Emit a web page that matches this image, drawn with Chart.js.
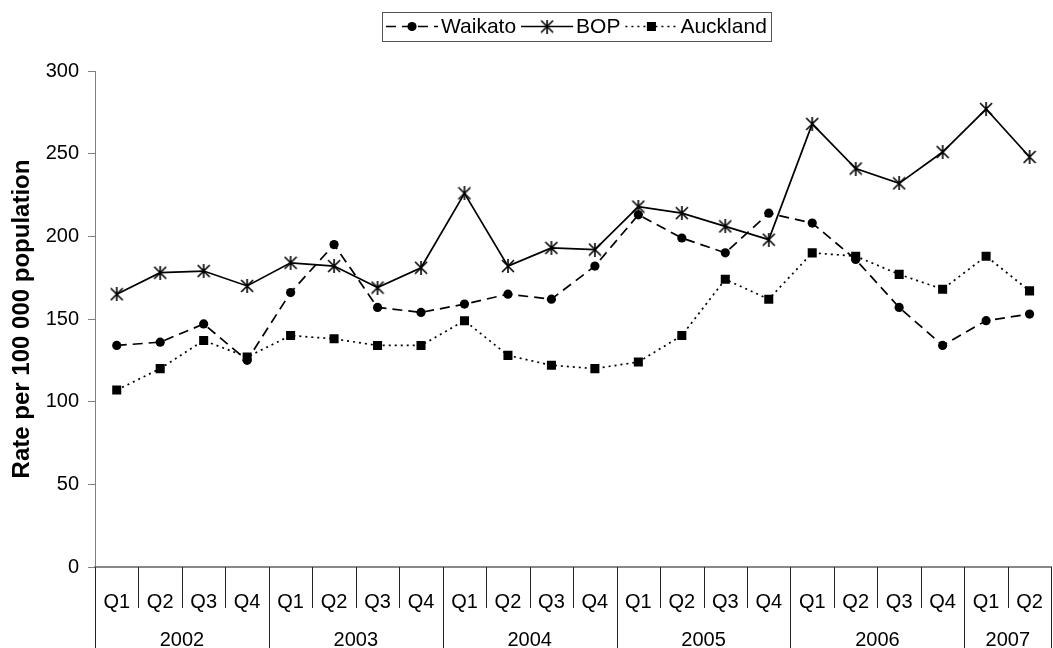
<!DOCTYPE html>
<html>
<head>
<meta charset="utf-8">
<title>Rate per 100 000 population</title>
<script src="https://cdn.jsdelivr.net/npm/chart.js@4.4.1/dist/chart.umd.min.js"></script>
<style>
    html, body { margin: 0; padding: 0; background: #fff; overflow: hidden; }
    #wrap { position: relative; width: 1060px; height: 648px; }
</style>
</head>
<body>
<div id="wrap"><canvas id="chart"></canvas></div>
<script>
// Data
const quarters = ['Q1', 'Q2', 'Q3', 'Q4', 'Q1', 'Q2', 'Q3', 'Q4', 'Q1', 'Q2', 'Q3', 'Q4',
                  'Q1', 'Q2', 'Q3', 'Q4', 'Q1', 'Q2', 'Q3', 'Q4', 'Q1', 'Q2'];
const years = ['2002', '2003', '2004', '2005', '2006', '2007'];
const quartersPerYear = [4, 4, 4, 4, 4, 2];

const waikato = [134, 136, 147, 125, 166, 195, 157, 154, 159, 165, 162, 182,
                 213, 199, 190, 214, 208, 186, 157, 134, 149, 153];
const bop = [165, 178, 179, 170, 184, 182, 169, 181, 226, 182, 193, 192,
             218, 214, 206, 198, 268, 241, 232, 251, 277, 248];
const auckland = [107, 120, 137, 127, 140, 138, 134, 134, 149, 128, 122, 120,
                  124, 140, 174, 162, 190, 188, 177, 168, 188, 167];

const yTicks = [0, 50, 100, 150, 200, 250, 300];

const FONT = '"Liberation Sans", Arial, sans-serif';
Chart.defaults.font.family = FONT;
Chart.defaults.color = '#000';

// Excel-style star marker: an X with a vertical bar
function makeStar(size) {
    const c = document.createElement('canvas');
    c.width = c.height = size;
    const g = c.getContext('2d');
    const m = size / 2, r = size / 2 - 1;
    g.strokeStyle = '#000';
    g.lineWidth = 1.6;
    g.beginPath();
    g.moveTo(m - r, m - r); g.lineTo(m + r, m + r);
    g.moveTo(m + r, m - r); g.lineTo(m - r, m + r);
    g.moveTo(m, 0); g.lineTo(m, size);
    g.stroke();
    return c;
}
const star = makeStar(14);

// Legend box with line samples, drawn on the canvas
const lineLegend = {
    id: 'lineLegend',
    afterDraw(chart) {
        const ctx = chart.ctx;
        const sampleW = 52, gap = 3, itemGap = 5, pad = 4;
        ctx.save();
        ctx.font = '21px ' + FONT;
        const items = chart.data.datasets.map(ds => ({ ds, w: ctx.measureText(ds.label).width }));
        const total = items.reduce((s, it) => s + sampleW + gap + it.w, 0) + itemGap * (items.length - 1) + pad * 2;
        const left = Math.round(576 - total / 2);
        const top = 12, h = 29, cy = top + h / 2;
        ctx.strokeStyle = '#555';
        ctx.lineWidth = 1;
        ctx.strokeRect(left + 0.5, top + 0.5, Math.round(total), h);
        let x = left + pad;
        items.forEach(it => {
            const ds = it.ds;
            ctx.strokeStyle = '#000';
            ctx.lineWidth = ds.borderWidth;
            ctx.setLineDash(ds.borderDash || []);
            ctx.beginPath();
            ctx.moveTo(x, cy); ctx.lineTo(x + sampleW, cy);
            ctx.stroke();
            ctx.setLineDash([]);
            ctx.fillStyle = '#000';
            Chart.helpers.drawPoint(ctx, {
                pointStyle: ds.pointStyle, radius: ds.pointRadius, rotation: 0, borderWidth: 0
            }, x + sampleW / 2, cy);
            x += sampleW + gap;
            ctx.fillStyle = '#000';
            ctx.textAlign = 'left';
            ctx.textBaseline = 'middle';
            ctx.fillText(ds.label, x, cy + 1);
            x += it.w + itemGap;
        });
        ctx.restore();
    }
};

// Two-level category axis: quarter separators and year groups
const axisGroups = {
    id: 'axisGroups',
    afterDraw(chart) {
        const xs = chart.scales.x;
        const ctx = chart.ctx;
        const n = quarters.length;
        const step = xs.width / n;
        const top = chart.chartArea.bottom;
        const qBottom = top + 41;
        const yBottom = chart.height;
        ctx.save();
        ctx.strokeStyle = '#222';
        ctx.lineWidth = 1;
        for (let i = 1; i < n; i++) {
            const x = Math.round(xs.left + i * step) + 0.5;
            ctx.beginPath(); ctx.moveTo(x, top); ctx.lineTo(x, qBottom); ctx.stroke();
        }
        ctx.font = '20px ' + FONT;
        ctx.fillStyle = '#000';
        ctx.textAlign = 'center';
        ctx.textBaseline = 'middle';
        let start = 0;
        years.forEach((yr, k) => {
            const end = start + quartersPerYear[k];
            const x0 = xs.left + start * step, x1 = xs.left + end * step;
            [x0, x1].forEach(x => {
                const px = Math.round(x) + 0.5;
                ctx.beginPath(); ctx.moveTo(px, top); ctx.lineTo(px, yBottom); ctx.stroke();
            });
            ctx.fillText(yr, (x0 + x1) / 2, top + 73);
            start = end;
        });
        ctx.restore();
    }
};

const ctx = document.getElementById('chart').getContext('2d');
new Chart(ctx, {
    type: 'line',
    data: {
        labels: quarters,
        datasets: [
            { label: 'Waikato', data: waikato, borderColor: '#000', backgroundColor: '#000', borderWidth: 1.7,
              borderDash: [10, 6], pointStyle: 'circle', pointRadius: 4.6, pointBorderWidth: 0, tension: 0 },
            { label: 'BOP', data: bop, borderColor: '#000', backgroundColor: '#000', borderWidth: 1.7,
              pointStyle: star, pointRadius: 7, tension: 0 },
            { label: 'Auckland', data: auckland, borderColor: '#000', backgroundColor: '#000', borderWidth: 1.7,
              borderDash: [2, 4], pointStyle: 'rect', pointRadius: 6.4, pointBorderWidth: 0, tension: 0 }
        ]
    },
    options: {
        responsive: true,
        maintainAspectRatio: false,
        animation: false,
        layout: { padding: { top: 71, right: 1, bottom: 0, left: 0 } },
        plugins: { legend: { display: false }, tooltip: { enabled: false } },
        scales: {
            x: {
                type: 'category',
                offset: true,
                grid: { display: false },
                border: { display: true, color: '#888', width: 2 },
                ticks: { font: { size: 20 }, color: '#000', padding: 15, maxRotation: 0, autoSkip: false },
                afterFit(s) { s.height = 81; }
            },
            y: {
                min: 0,
                max: 300,
                afterBuildTicks(s) { s.ticks = yTicks.map(v => ({ value: v })); },
                grid: { drawOnChartArea: false, drawTicks: true, tickLength: 7, color: '#808080' },
                border: { display: true, color: '#808080', width: 1 },
                ticks: { font: { size: 20 }, color: '#000', padding: 9 },
                title: {
                    display: true,
                    text: 'Rate per 100 000 population',
                    font: { size: 24, weight: 'bold' },
                    color: '#000',
                    padding: { top: 8, bottom: 0 }
                },
                afterFit(s) { s.width = 95; }
            }
        }
    },
    plugins: [lineLegend, axisGroups]
});
</script>
</body>
</html>
